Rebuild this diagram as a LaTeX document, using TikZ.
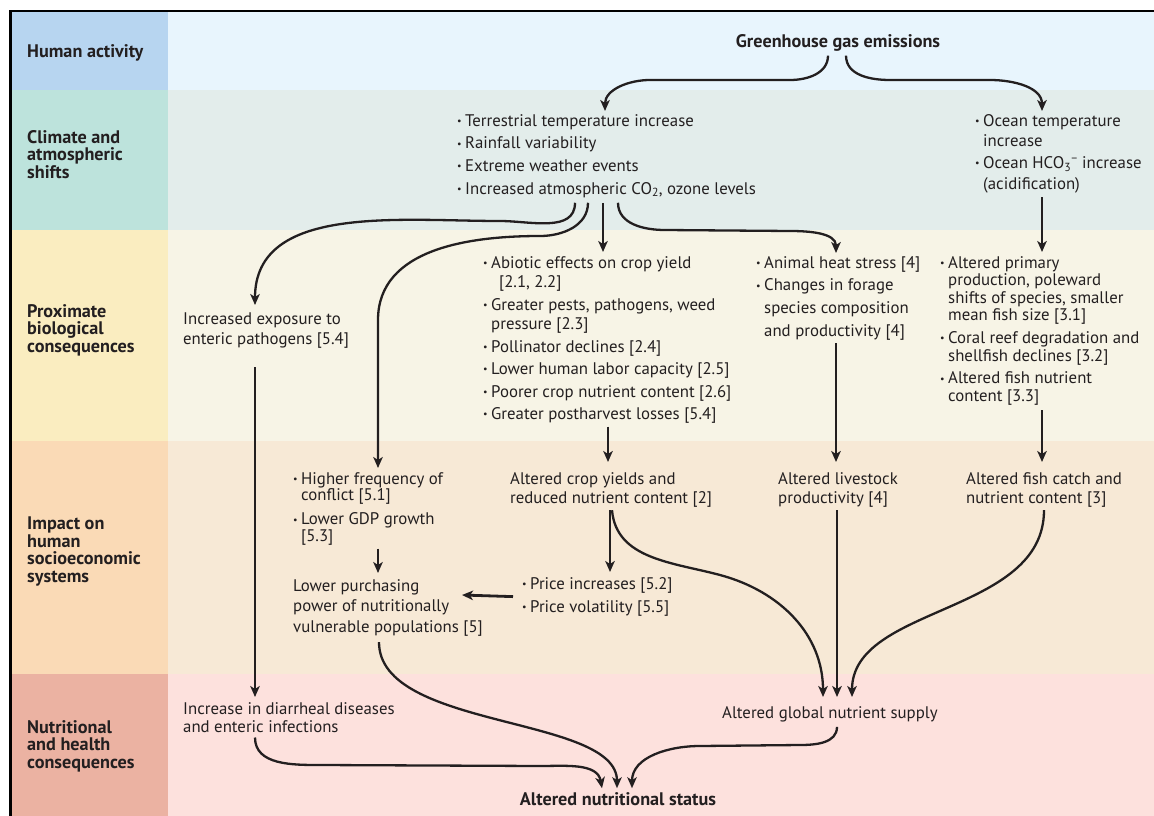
\documentclass[tikz,border=0pt]{standalone}
\usepackage{fontspec}
\setmainfont{PT Sans}
\usepackage{tikz}
\usetikzlibrary{calc,positioning,arrows.meta}

\definecolor{ink}{HTML}{231F20}
\definecolor{human_left}{HTML}{B7D5F0}
\definecolor{human_right}{HTML}{E8F5FD}
\definecolor{climate_left}{HTML}{BDE3DC}
\definecolor{climate_right}{HTML}{E3EDEB}
\definecolor{prox_left}{HTML}{FAEDC0}
\definecolor{prox_right}{HTML}{F7F4E6}
\definecolor{impact_left}{HTML}{FADAB6}
\definecolor{impact_right}{HTML}{F7E9D6}
\definecolor{health_left}{HTML}{EBB2A2}
\definecolor{health_right}{HTML}{FDE1DD}

\newcommand{\bitem}{\makebox[8pt][l]{\raisebox{0.2ex}{\fontsize{10}{10}\selectfont\textbullet}}}
\newcommand{\bcont}{\hspace*{8pt}}

\begin{document}
\begin{tikzpicture}[x=1pt, y=-1pt,
    body_text/.style={font=\fontsize{16.8}{19}\selectfont, align=left, inner sep=0pt, anchor=north west, text=ink},
    band_label/.style={font=\fontsize{18.2}{17.5}\selectfont\bfseries, align=left, inner sep=0pt, anchor=north west, text=ink},
    flow_arrow/.style={draw=ink, line width=2.3pt, -{Stealth[length=11pt, width=9.5pt, inset=3pt]}},
    thick_arrow/.style={flow_arrow, line width=2.8pt}]
    \useasboundingbox (0,0) rectangle (1154,816);

    % bands
    \fill[human_left]   (11,12)  rectangle (168,90);
    \fill[human_right]  (168,12) rectangle (1154,90);
    \fill[climate_left] (11,90)  rectangle (168,230);
    \fill[climate_right](168,90) rectangle (1154,230);
    \fill[prox_left]    (11,230) rectangle (168,441);
    \fill[prox_right]   (168,230) rectangle (1154,441);
    \fill[impact_left]  (11,441) rectangle (168,674);
    \fill[impact_right] (168,441) rectangle (1154,674);
    \fill[health_left]  (11,674) rectangle (168,816);
    \fill[health_right] (168,674) rectangle (1154,816);
    \draw[line width=2.5pt] (10.5,816) -- (10.5,11) -- (1154,11);

    % row labels
    \node[band_label] (lbl_human) at (27,44) {Human activity};
    \node[band_label] (lbl_climate) at (27,130) {Climate and\\atmospheric\\shifts};
    \node[band_label] (lbl_prox) at (27,304) {Proximate\\biological\\consequences};
    \node[band_label] (lbl_impact) at (27,517) {Impact on\\human\\socioeconomic\\systems};
    \node[band_label] (lbl_health) at (27,720) {Nutritional\\and health\\consequences};

    % human activity
    \node[band_label, anchor=center] (ghg) at (838,43) {Greenhouse gas emissions};

    % climate shifts
    \node[body_text, font=\fontsize{16.8}{19.7}\selectfont] (terr_list) at (457,114)
        {\bitem Terrestrial temperature increase\\[3pt]
         \bitem Rainfall variability\\[3pt]
         \bitem Extreme weather events\\[3pt]
         \bitem Increased atmospheric CO\textsubscript{2}, ozone levels};
    \node[body_text, font=\fontsize{16.8}{20.5}\selectfont] (ocean_list) at (975,114)
        {\bitem Ocean temperature\\
         \bcont increase\\[1.5pt]
         \bitem Ocean HCO\textsubscript{3}\textsuperscript{\textminus} increase\\
         \bcont (acidification)};

    % proximate consequences
    \node[body_text, font=\fontsize{16.8}{20}\selectfont] (exposure) at (183,313) {Increased exposure to\\enteric pathogens [5.4]};
    \node[body_text, font=\fontsize{16.8}{19.5}\selectfont] (crop_list) at (483,256)
        {\bitem Abiotic effects on crop yield\\
         \bcont\hspace*{8pt}[2.1, 2.2]\\[3pt]
         \bitem Greater pests, pathogens, weed\\
         \bcont pressure [2.3]\\[3pt]
         \bitem Pollinator declines [2.4]\\[3pt]
         \bitem Lower human labor capacity [2.5]\\[3pt]
         \bitem Poorer crop nutrient content [2.6]\\[3pt]
         \bitem Greater postharvest losses [5.4]};
    \node[body_text, font=\fontsize{16.8}{22.7}\selectfont] (animal_list) at (756,256)
        {\bitem Animal heat stress [4]\\
         \bitem Changes in forage\\
         \bcont species composition\\
         \bcont and productivity [4]};
    \node[body_text, font=\fontsize{16.8}{17.6}\selectfont] (fish_list) at (940,256)
        {\bitem Altered primary\\
         \bcont production, poleward\\
         \bcont shifts of species, smaller\\
         \bcont mean fish size [3.1]\\[5pt]
         \bitem Coral reef degradation and\\
         \bcont shellfish declines [3.2]\\[5pt]
         \bitem Altered fish nutrient\\
         \bcont content [3.3]};

    % socioeconomic impact
    \node[body_text, font=\fontsize{16.8}{16.8}\selectfont] (conflict_list) at (293,472)
        {\bitem Higher frequency of\\
         \bcont conflict [5.1]\\[7pt]
         \bitem Lower GDP growth\\
         \bcont [5.3]};
    \node[body_text, font=\fontsize{16.8}{20.5}\selectfont] (purchasing) at (293,579)
        {Lower purchasing\\power of nutritionally\\vulnerable populations [5]};
    \node[body_text] (crop_yields) at (510,472) {Altered crop yields and\\reduced nutrient content [2]};
    \node[body_text, font=\fontsize{16.8}{23}\selectfont] (price_list) at (522,577)
        {\bitem Price increases [5.2]\\
         \bitem Price volatility [5.5]};
    \node[body_text] (livestock) at (778,472) {Altered livestock\\productivity [4]};
    \node[body_text] (fish_catch) at (966,472) {Altered fish catch and\\nutrient content [3]};

    % nutritional and health consequences
    \node[body_text, font=\fontsize{16.8}{18}\selectfont] (diarrheal) at (183,702) {Increase in diarrheal diseases\\and enteric infections};
    \node[body_text] (nutrient_supply) at (722,706) {Altered global nutrient supply};
    \node[band_label, anchor=center] (status) at (618,799) {Altered nutritional status};

    % arrows from emissions
    \draw[flow_arrow] ($(ghg.south)+(-10,4)$) to[out=-90,in=0] (790,80) -- (650,80)
        to[out=180,in=90] ($(terr_list.north west)+(148,-3)$);
    \draw[flow_arrow] ($(ghg.south)+(8,4)$) to[out=-90,in=180] (890,80) -- (990,80)
        to[out=0,in=90] ($(ocean_list.north west)+(67,-3)$);

    % arrows from climate shifts
    \draw[flow_arrow] ($(terr_list.south west)+(118,5)$) to[out=-90,in=0] (500,221)
        to[out=180,in=90] ($(exposure.north west)+(72,-8)$);
    \draw[flow_arrow] ($(terr_list.south west)+(131,5)$) to[out=-90,in=0] (540,236)
        to[out=180,in=90] (378,320) -- ($(conflict_list.north west)+(85,-4)$);
    \draw[thick_arrow] ($(terr_list.south west)+(146,5)$) -- ($(crop_list.north west)+(120,-4)$);
    \draw[flow_arrow] ($(terr_list.south west)+(161,5)$) to[out=-90,in=180] (665,230) -- (790,231)
        to[out=0,in=90] ($(animal_list.north west)+(80,-3)$);
    \draw[thick_arrow] ($(ocean_list.south west)+(67,4)$) -- ($(fish_list.north west)+(102,-4)$);

    % arrows from proximate consequences
    \draw[thick_arrow] ($(exposure.south west)+(72,18)$) -- ($(diarrheal.north west)+(72,-5)$);
    \draw[thick_arrow] ($(crop_list.south west)+(125,3)$) -- ($(crop_yields.north west)+(98,-10)$);
    \draw[thick_arrow] ($(animal_list.south west)+(80,3)$) -- ($(livestock.north west)+(58,-10)$);
    \draw[thick_arrow] ($(fish_list.south west)+(102,5)$) -- ($(fish_catch.north west)+(76,-10)$);

    % arrows within socioeconomic impact
    \draw[thick_arrow] ($(conflict_list.south west)+(85,3)$) -- ($(purchasing.north west)+(85,-6)$);
    \draw[thick_arrow] ($(crop_yields.south west)+(100,3)$) -- ($(price_list.north west)+(88,-5)$);
    \draw[thick_arrow] ($(price_list.west)+(-9,0)$) -- ($(purchasing.north west)+(169,16)$);
    \draw[flow_arrow] ($(crop_yields.south west)+(102,3)$) to[out=-85,in=165] (720,575)
        to[out=-15,in=90] ($(nutrient_supply.north west)+(101,-9)$);
    \draw[thick_arrow] ($(livestock.south west)+(59,3)$) -- ($(nutrient_supply.north west)+(115,-9)$);
    \draw[flow_arrow] ($(fish_catch.south west)+(78,3)$) .. controls (1044,615) and (852,605)
        .. ($(nutrient_supply.north west)+(130,-9)$);
    \draw[flow_arrow] ($(purchasing.south west)+(86,6)$) .. controls (379,730) and (617,715)
        .. ($(status.north)+(-1,-4)$);

    % arrows to nutritional status
    \draw[flow_arrow] ($(diarrheal.south west)+(72,5)$) to[out=-90,in=180] (320,765) -- (540,766)
        to[out=0,in=100] ($(status.north)+(-16,-4)$);
    \draw[flow_arrow] ($(nutrient_supply.south west)+(115,5)$) to[out=-90,in=0] (800,745) -- (700,746)
        to[out=180,in=90] ($(status.north)+(14,-4)$);
\end{tikzpicture}
\end{document}
